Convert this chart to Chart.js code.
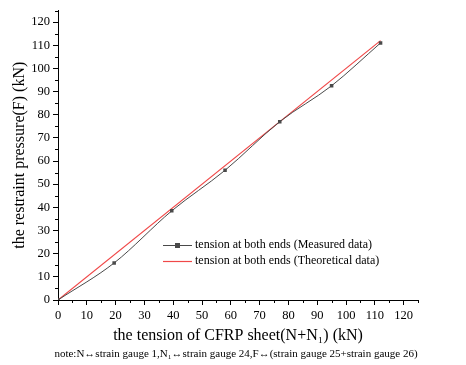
<!DOCTYPE html>
<html>
<head>
<meta charset="utf-8">
<script src="https://cdn.jsdelivr.net/npm/chart.js@4"></script>
<style>
  body { margin: 0; background: #fff; }
  #wrap { width: 466px; height: 365px; position: relative; }
</style>
</head>
<body>
<div id="wrap"><canvas id="chart" width="466" height="365"></canvas></div>
<script>
// measured curve (kN)
const measuredX = [0, 19.5, 39.5, 58, 77, 95, 112];
const measuredY = [0, 16, 38.5, 56, 77, 92.5, 111];
// theoretical straight line
const theoryX = [0, 112];
const theoryY = [0, 112];

const serif = "'Liberation Serif', 'Times New Roman', serif";
const tickFont = { family: serif, size: 12.5 };

const toPoints = (xs, ys) => xs.map((x, i) => ({ x: x, y: ys[i] }));

// short ticks every 5 between labelled ones
const minorTicks = {
  id: "minorTicks",
  afterDraw(chart) {
    const ctx = chart.ctx;
    const xs = chart.scales.x, ys = chart.scales.y;
    ctx.save();
    ctx.strokeStyle = "#000";
    ctx.lineWidth = 1;
    for (let v = 5; v <= 125; v += 10) {
      const px = Math.round(xs.getPixelForValue(v)) + 0.5;
      ctx.beginPath();
      ctx.moveTo(px, xs.top);
      ctx.lineTo(px, xs.top + 3);
      ctx.stroke();
      const py = Math.round(ys.getPixelForValue(v)) + 0.5;
      ctx.beginPath();
      ctx.moveTo(ys.right, py);
      ctx.lineTo(ys.right - 3, py);
      ctx.stroke();
    }
    ctx.restore();
  },
};

// legend inside the plot + the note line under the axis title
const extras = {
  id: "extras",
  afterDraw(chart) {
    const ctx = chart.ctx;
    ctx.save();
    ctx.font = "12px " + serif;
    ctx.textBaseline = "middle";
    // measured row
    ctx.strokeStyle = "#4a4a4a";
    ctx.lineWidth = 1;
    ctx.beginPath();
    ctx.moveTo(163, 245.5);
    ctx.lineTo(192, 245.5);
    ctx.stroke();
    ctx.fillStyle = "#4a4a4a";
    ctx.fillRect(175, 243, 5, 5);
    ctx.fillStyle = "#000";
    ctx.fillText("tension at both ends (Measured data)", 195, 245);
    // theoretical row
    ctx.strokeStyle = "#f04848";
    ctx.lineWidth = 1.2;
    ctx.beginPath();
    ctx.moveTo(163, 261.5);
    ctx.lineTo(192, 261.5);
    ctx.stroke();
    ctx.fillText("tension at both ends (Theoretical data)", 195, 261);
    // note
    ctx.font = "11px " + serif;
    ctx.textAlign = "center";
    ctx.fillText("note:N\u2194strain gauge 1,N\u2081\u2194strain gauge 24,F\u2194(strain gauge 25+strain gauge 26)", 236, 354);
    ctx.restore();
  },
};

new Chart(document.getElementById("chart"), {
  type: "line",
  data: {
    datasets: [
      {
        label: "tension at both ends (Measured data)",
        data: toPoints(measuredX, measuredY),
        borderColor: "#4a4a4a",
        backgroundColor: "#4a4a4a",
        borderWidth: 1,
        pointStyle: "rect",
        pointRadius: 2.5,
        pointBorderWidth: 0,
        tension: 0.4,
        cubicInterpolationMode: "monotone",
      },
      {
        label: "tension at both ends (Theoretical data)",
        data: toPoints(theoryX, theoryY),
        borderColor: "#f04848",
        borderWidth: 1.2,
        pointRadius: 0,
      },
    ],
  },
  options: {
    responsive: false,
    animation: false,
    layout: { padding: { top: 10, right: 48, bottom: 0, left: 0 } },
    plugins: { legend: { display: false }, tooltip: { enabled: false } },
    scales: {
      x: {
        type: "linear",
        min: 0,
        max: 125,
        afterFit: (s) => { s.height = 65; },
        ticks: { stepSize: 10, includeBounds: false, autoSkip: false, color: "#000", font: tickFont,
          padding: 3, maxRotation: 0 },
        grid: { drawOnChartArea: false, tickLength: 5, color: "#000" },
        border: { display: true, color: "#000", width: 1 },
        title: { display: true, text: "the tension of CFRP sheet(N+N\u2081) (kN)", color: "#000",
          font: { family: serif, size: 16 }, padding: { top: 0, bottom: 20 } },
      },
      y: {
        min: 0,
        max: 125,
        afterFit: (s) => { s.width = 58; },
        ticks: { stepSize: 10, includeBounds: false, autoSkip: false, color: "#000", font: tickFont,
          padding: 3 },
        grid: { drawOnChartArea: false, tickLength: 5, color: "#000" },
        border: { display: true, color: "#000", width: 1 },
        title: { display: true, text: "the restraint pressure(F) (kN)", color: "#000",
          font: { family: serif, size: 16 }, padding: { top: 10, bottom: 0 } },
      },
    },
  },
  plugins: [minorTicks, extras],
});
</script>
</body>
</html>
